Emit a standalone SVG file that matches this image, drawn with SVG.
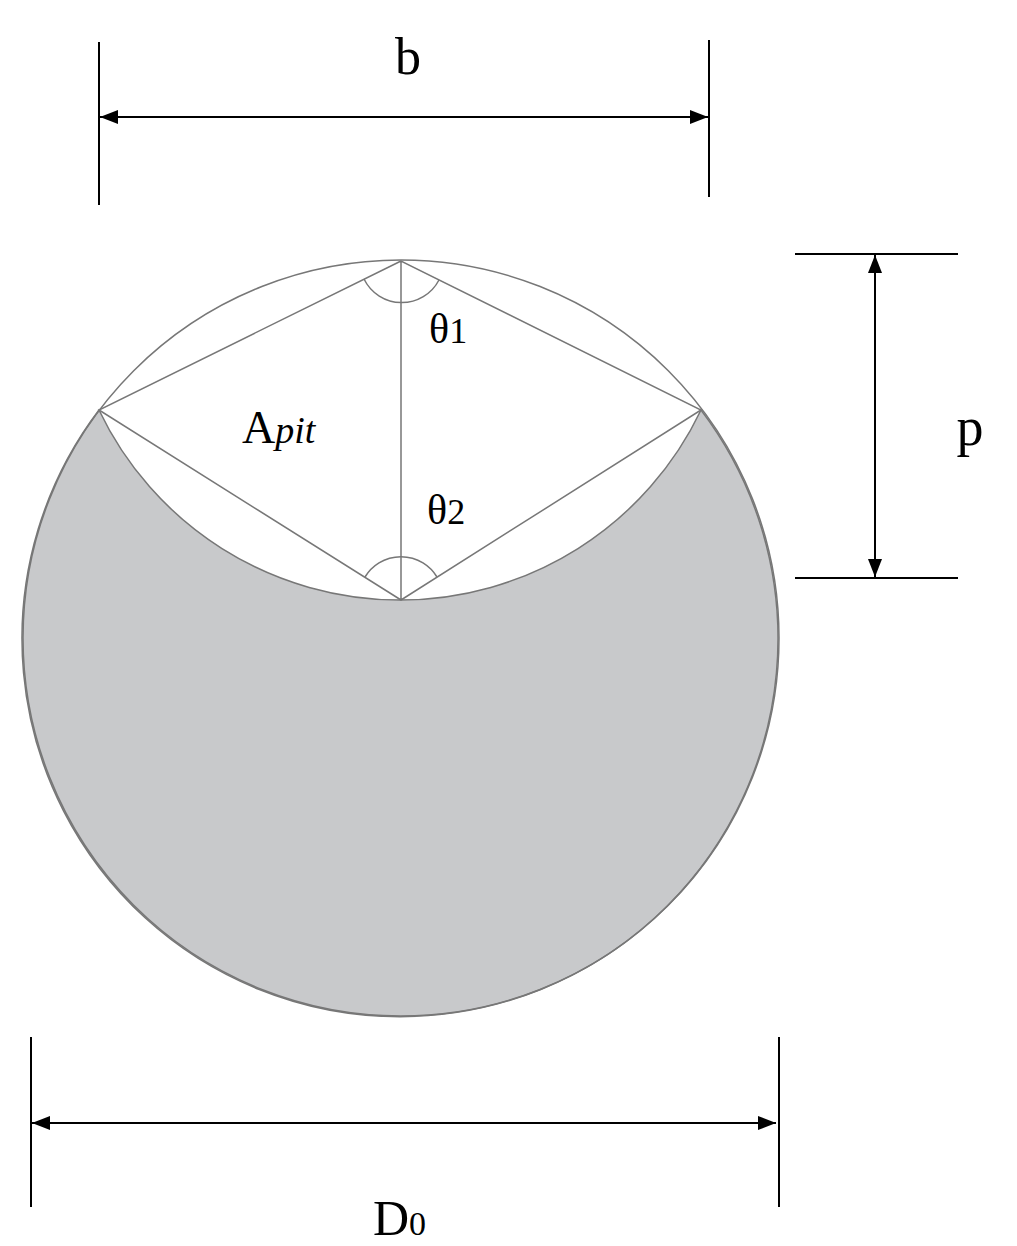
<svg xmlns="http://www.w3.org/2000/svg" width="1017" height="1246" viewBox="0 0 1017 1246">
<defs>
<marker id="ar" viewBox="0 0 10 10" refX="10" refY="5" markerWidth="18" markerHeight="14" markerUnits="userSpaceOnUse" orient="auto-start-reverse" preserveAspectRatio="none"><path d="M0,0 L10,5 L0,10 Z" fill="#000"/></marker>
<style>.t{font-family:"Liberation Serif",serif;fill:#000}.g{stroke:#777;stroke-width:1.5;fill:none}.d{stroke:#000;stroke-width:2;fill:none}</style>
</defs>
<rect width="1017" height="1246" fill="#fff"/>
<g id="body">
<path d="M99,410 A378,378 0 1 0 701,410 A333.4,333.4 0 0 1 99,410 Z" fill="#c8c9cb" stroke="#777" stroke-width="1.5"/>
<circle cx="401" cy="638" r="378" class="g"/>
<path class="g" d="M401,261 L99,410 L401,600 L701,410 Z M401,261 L401,600"/>
<path class="g" d="M364,279 A42,42 0 0 0 439,280"/>
<path class="g" d="M365,577 A42,42 0 0 1 437,577"/>
</g>
<g id="connectors">
<path class="d" d="M99,42 V205 M709,40 V197"/>
<line class="d" x1="100" y1="117" x2="708" y2="117" marker-start="url(#ar)" marker-end="url(#ar)"/>
<path class="d" d="M795,254 H958 M795,578 H958"/>
<line class="d" x1="875" y1="255" x2="875" y2="577" marker-start="url(#ar)" marker-end="url(#ar)"/>
<path class="d" d="M31,1037 V1207 M779,1037 V1207"/>
<line class="d" x1="32" y1="1123" x2="776" y2="1123" marker-start="url(#ar)" marker-end="url(#ar)"/>
</g>
<g id="labels">
<text class="t" x="408" y="74" font-size="52" text-anchor="middle">b</text>
<text class="t" x="970" y="445" font-size="54" text-anchor="middle">p</text>
<text class="t" x="373" y="1235" font-size="50">D<tspan font-size="34">0</tspan></text>
<text class="t" x="429" y="343" font-size="42">θ<tspan font-size="36">1</tspan></text>
<text class="t" x="427" y="524" font-size="42">θ<tspan font-size="36">2</tspan></text>
<text class="t" x="242" y="443" font-size="46">A<tspan font-style="italic" font-size="38">pit</tspan></text>
</g>
</svg>
